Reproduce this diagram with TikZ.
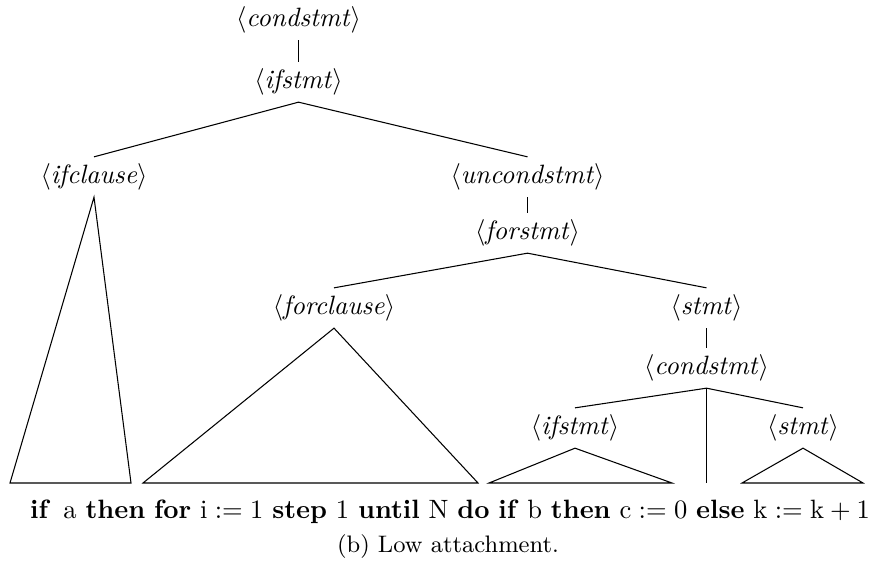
\documentclass[tikz,border=0pt]{standalone}
\begin{document}
\begin{tikzpicture}[x=0.377pt,y=-0.377pt,
  nt/.style={inner sep=2.4pt},
  tree/.style={line width=0.4pt}]
\useasboundingbox (0,0) rectangle (879,567);
\newcommand{\nonterm}[1]{$\langle$\textit{#1}$\rangle$}
\node[nt] (c1) at (298.5,20) {\nonterm{condstmt}};
\node[nt] (i1) at (298.5,82) {\nonterm{ifstmt}};
\node[nt] (ic) at (94,177) {\nonterm{ifclause}};
\node[nt] (uc) at (527.5,177) {\nonterm{uncondstmt}};
\node[nt] (fs) at (527.5,233) {\nonterm{forstmt}};
\node[nt] (fc) at (334,308) {\nonterm{forclause}};
\node[nt] (st) at (706.5,308) {\nonterm{stmt}};
\node[nt] (c2) at (706.5,368) {\nonterm{condstmt}};
\node[nt] (i2) at (575,428) {\nonterm{ifstmt}};
\node[nt] (s2) at (803,428) {\nonterm{stmt}};
\coordinate (icl) at (10,483);
\coordinate (icr) at (131,483);
\coordinate (fcl) at (143,483);
\coordinate (fcr) at (478,483);
\coordinate (i2l) at (489,483);
\coordinate (i2r) at (672,483);
\coordinate (vb) at (706.5,483);
\coordinate (s2l) at (742,483);
\coordinate (s2r) at (863,483);
\draw[tree] (c1.south) -- (i1.north);
\draw[tree] (ic.north) -- (i1.south) -- (uc.north);
\draw[tree] (uc.south) -- (fs.north);
\draw[tree] (fc.north) -- (fs.south) -- (st.north);
\draw[tree] (st.south) -- (c2.north);
\draw[tree] (i2.north) -- (c2.south) -- (s2.north);
\draw[tree] (c2.south) -- (vb);
\draw[tree] (ic.south) -- (icl) -- (icr) -- cycle;
\draw[tree] (fc.south) -- (fcl) -- (fcr) -- cycle;
\draw[tree] (i2.south) -- (i2l) -- (i2r) -- cycle;
\draw[tree] (s2.south) -- (s2l) -- (s2r) -- cycle;
\node[inner sep=0pt] (txt) at (450,512) {\textbf{if}\, a \textbf{then} \textbf{for} i${}:={}$1 \textbf{step} 1 \textbf{until} N \textbf{do} \textbf{if} b \textbf{then} c${}:={}$0 \textbf{else} k${}:={}$k${}+{}$1};
\node[inner sep=0pt] (cap) at (448,547) {\small (b) Low attachment.};
\end{tikzpicture}
\end{document}
